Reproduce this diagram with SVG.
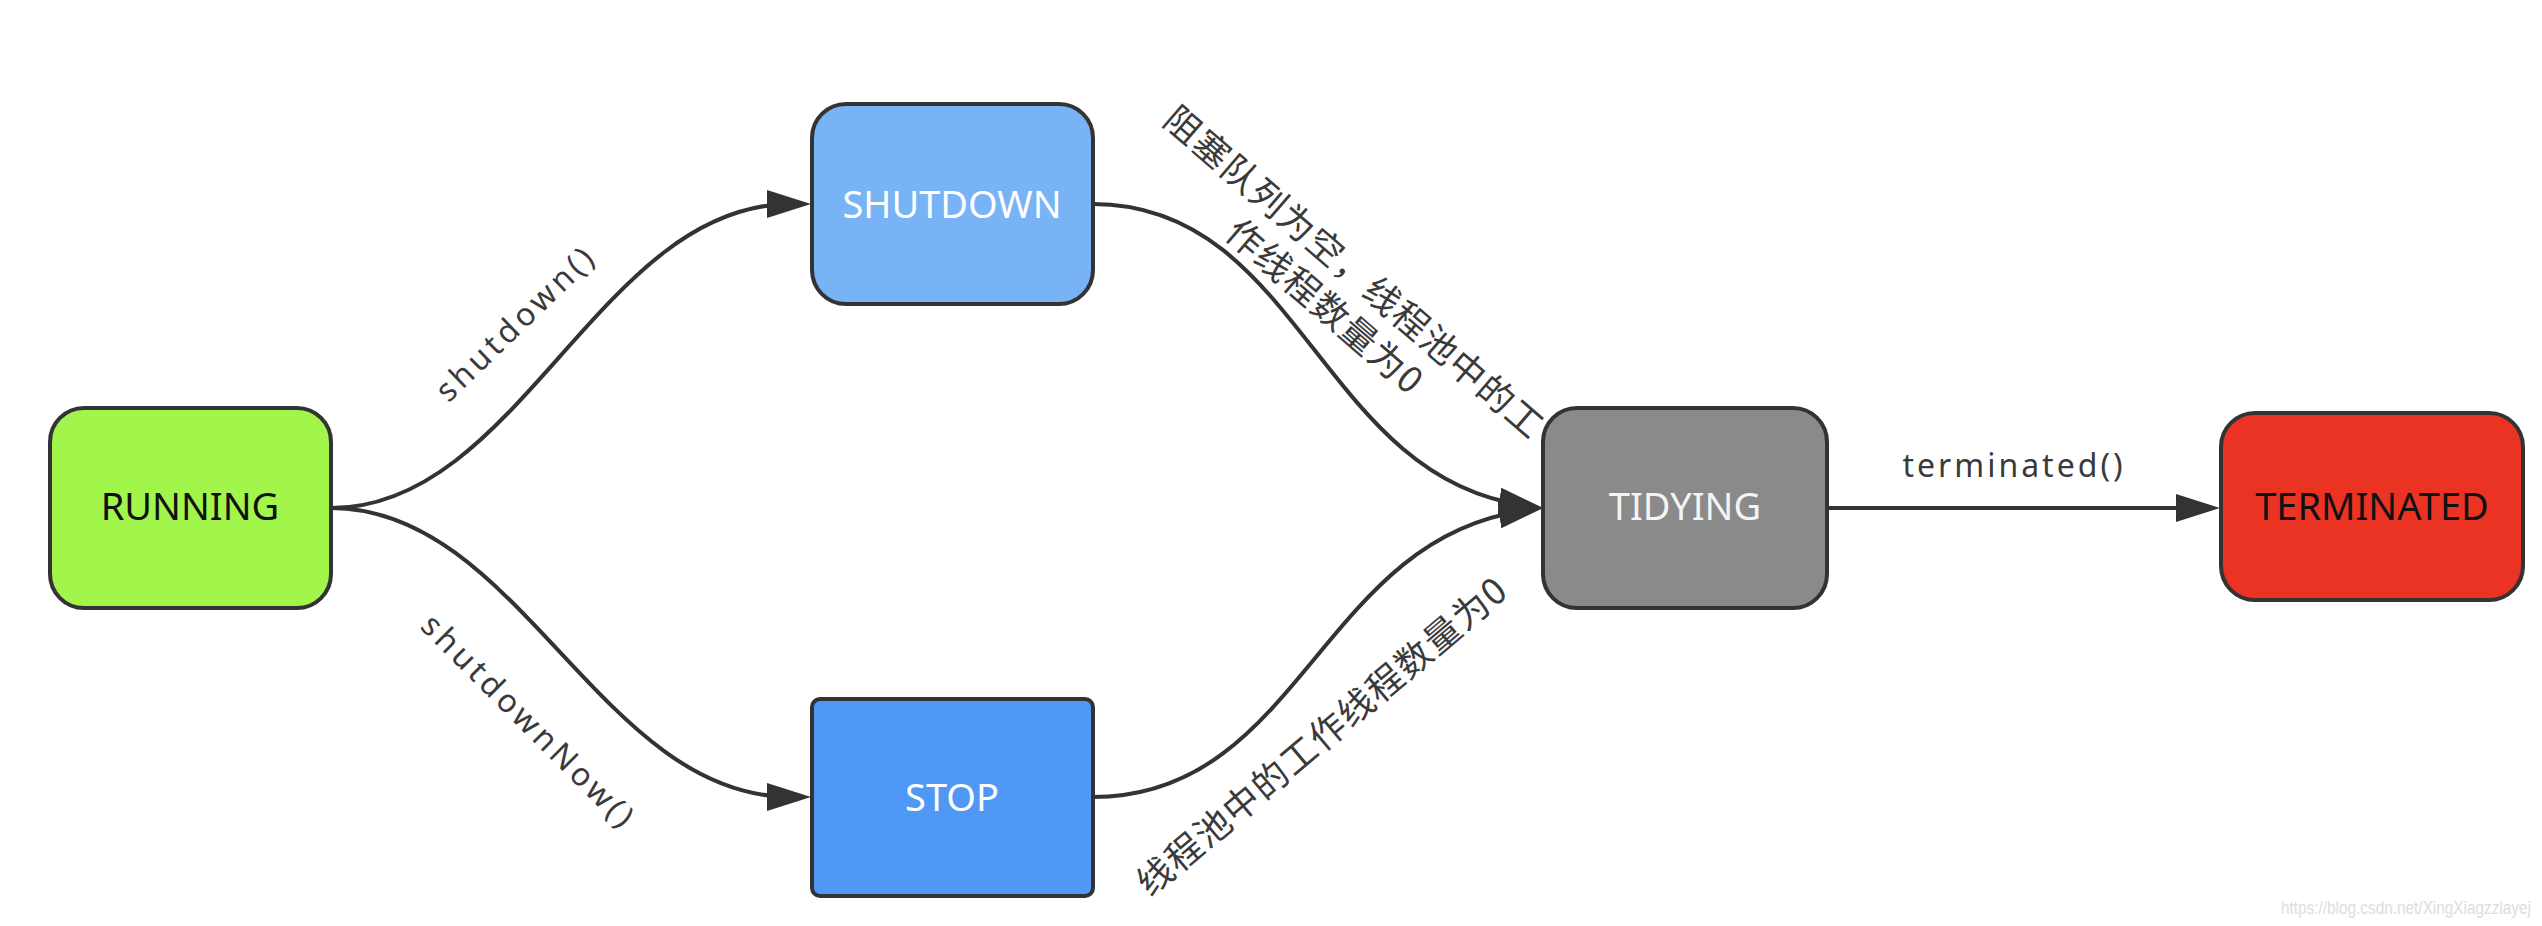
<svg xmlns="http://www.w3.org/2000/svg" width="2542" height="926" viewBox="0 0 2542 926">
<style>
  .box { stroke: #333333; stroke-width: 4; }
  .nt { font-family: "Noto Sans", "Open Sans", sans-serif; font-size: 38px; text-anchor: middle; }
  .lt { font-family: "Noto Sans", "Open Sans", sans-serif; font-size: 32px; fill: #3a3a3a; text-anchor: middle; letter-spacing: 4px; }
  .ct { font-family: "Noto Sans CJK SC", sans-serif; font-size: 36px; fill: #3a3a3a; text-anchor: middle; letter-spacing: 1.5px; }
  .edge { fill: none; stroke: #333333; stroke-width: 4; marker-end: url(#arr); }
</style>
<defs>
  <marker id="arr" markerUnits="userSpaceOnUse" viewBox="0 0 44 28" markerWidth="44" markerHeight="28" refX="24" refY="14" orient="auto">
    <path d="M0,0 L44,14 L0,28 z" fill="#333333"/>
  </marker>
</defs>
<rect width="2542" height="926" fill="#ffffff"/>

<g id="connectors">
  <path class="edge" d="M331,508 C520,508 600,204 791,204"/>
  <path class="edge" d="M331,508 C520,508 600,797 791,797"/>
  <path class="edge" d="M1093,204 C1300,204 1320,476 1523,505"/>
  <path class="edge" d="M1093,797 C1300,797 1320,540 1523,511"/>
  <path class="edge" d="M1827,508 L2200,508"/>
  <text class="lt" transform="translate(516,323) rotate(-44)" x="0" y="11">shutdown()</text>
  <text class="lt" transform="translate(529,722) rotate(45)" x="0" y="11">shutdownNow()</text>
  <text class="lt" x="2014" y="477" style="letter-spacing:3px">terminated()</text>
  <g transform="translate(1340,289) rotate(40.7)">
    <text class="ct" x="0" y="-9">阻塞队列为空，线程池中的工</text>
    <text class="ct" x="0" y="36">作线程数量为0</text>
  </g>
  <text class="ct" transform="translate(1322,736) rotate(-40.1)" x="0" y="13">线程池中的工作线程数量为0</text>
</g>

<g id="node-running">
  <rect class="box" x="50" y="408" width="281" height="200" rx="34" fill="#a2f54b"/>
  <text class="nt" x="190" y="520" fill="#111111">RUNNING</text>
</g>
<g id="node-shutdown">
  <rect class="box" x="812" y="104" width="281" height="200" rx="34" fill="#78b3f6"/>
  <text class="nt" x="952" y="218" fill="#ffffff">SHUTDOWN</text>
</g>
<g id="node-stop">
  <rect class="box" x="812" y="699" width="281" height="197" rx="8" fill="#4f98f5"/>
  <text class="nt" x="952" y="811" fill="#ffffff">STOP</text>
</g>
<g id="node-tidying">
  <rect class="box" x="1543" y="408" width="284" height="200" rx="34" fill="#8a8a8a"/>
  <text class="nt" x="1685" y="520" fill="#f4f4f4">TIDYING</text>
</g>
<g id="node-terminated">
  <rect class="box" x="2221" y="413" width="302" height="187" rx="34" fill="#ea3323"/>
  <text class="nt" x="2372" y="520" fill="#111111">TERMINATED</text>
</g>

<text x="2281" y="914" font-family="Liberation Sans, sans-serif" font-size="18" fill="#dddddd" textLength="250" lengthAdjust="spacingAndGlyphs">https://blog.csdn.net/XingXiagzzlayej</text>
</svg>
